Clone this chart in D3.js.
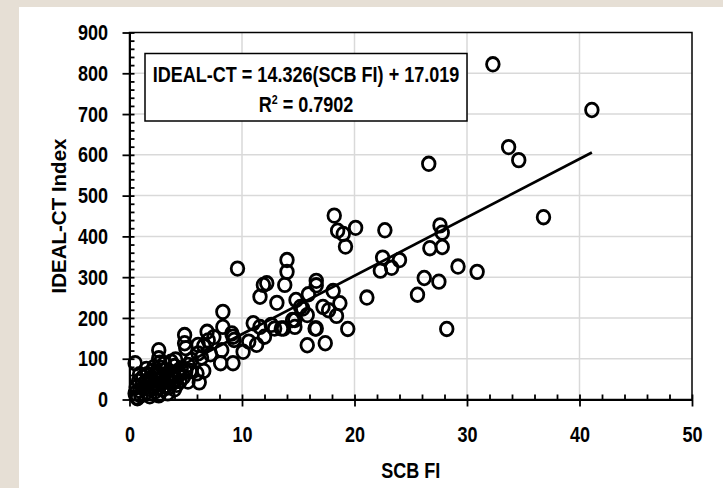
<!DOCTYPE html>
<html>
<head>
<meta charset="utf-8">
<script src="https://cdn.jsdelivr.net/npm/d3@7"></script>
<style>
    body { margin: 0; background: #e6dfd5; }
    svg { display: block; }
    .narrow { font-family: "Liberation Sans", Arial, sans-serif; font-weight: bold; font-size: 22px; }
</style>
</head>
<body>
<div id="chart"></div>
<script>
// Axis ticks
const xTicks = [0, 10, 20, 30, 40, 50];
const yTicks = [0, 100, 200, 300, 400, 500, 600, 700, 800, 900];
const xMinorTicks = d3.range(0, 51, 2);
const yMinorTicks = d3.range(0, 901, 20);

// Trend line (from the chart's equation)
const slope = 14.326;
const intercept = 17.019;
const equationText = "IDEAL-CT = 14.326(SCB FI) + 17.019";
const r2Text = "0.7902";

// SCB FI values
const scbFi = [
    32.3, 41.1, 33.7, 34.6, 26.6, 36.8,
    18.2, 18.5, 19.0, 19.2, 20.1, 22.7,
    27.6, 27.8, 27.8, 26.7, 22.5, 22.3, 23.3, 24.0,
    29.2, 30.9, 26.2, 27.5, 25.6, 21.1, 28.2,
    9.6, 14.0, 14.0, 13.8, 11.9, 12.2, 11.6, 13.1, 14.8,
    16.6, 16.6, 15.9, 18.1, 18.7, 17.2, 17.7, 18.4, 15.8, 15.2, 16.5,
    14.7, 14.7, 13.5, 12.6, 11.6, 11.0, 16.6, 19.4, 15.8, 17.4,
    8.3, 8.3, 9.2, 9.3, 9.1, 10.6, 11.3, 10.1, 9.2, 8.1, 12.0,
    4.9, 4.9, 5.0, 6.9, 7.0, 7.5, 2.6, 2.6, 0.5, 3.7, 5.5,
    6.1, 6.1, 8.2, 5.2, 6.2, 6.0, 0.7, 12.9, 13.7, 14.5, 15.4,
    6.6, 7.2, 6.4, 5.4, 6.6, 4.1, 2.7,
    0.5, 0.6, 0.7, 0.8, 0.9, 1.0, 1.1, 1.2, 1.3, 1.4, 1.5, 1.6, 1.7, 1.8, 1.9,
    2.0, 2.0, 2.1, 2.2, 2.3, 2.4, 2.5, 2.5, 2.6, 2.7, 2.8, 2.9, 3.0, 3.0, 3.1,
    3.2, 3.3, 3.4, 3.5, 3.6, 3.7, 3.8, 3.9, 4.0, 4.1, 4.2, 4.3, 4.4, 4.5, 4.6,
    4.8, 5.0, 5.2, 3.1, 2.2, 1.5, 0.9, 4.0, 3.4, 2.6, 1.8
];

// IDEAL-CT Index values
const idealCt = [
    822, 710, 619, 587, 578, 447,
    451, 414, 406, 375, 421, 415,
    427, 409, 374, 371, 348, 316, 323, 342,
    326, 313, 298, 289, 257, 250, 173,
    321, 342, 313, 281, 281, 285, 252, 237, 244,
    291, 280, 258, 266, 236, 227, 219, 205, 207, 227, 174,
    195, 178, 174, 183, 178, 187, 174, 173, 133, 138,
    215, 178, 154, 146, 162, 142, 134, 117, 89, 89, 154,
    158, 138, 126, 166, 145, 153, 121, 101, 89, 93, 97,
    134, 113, 121, 44, 42, 64, 3, 174, 174, 195, 223,
    131, 111, 103, 70, 70, 98, 90,
    15, 30, 5, 45, 22, 10, 35, 55, 28, 42, 18, 62, 38, 50, 25,
    70, 45, 32, 58, 20, 48, 66, 36, 28, 78, 52, 40, 60, 25, 45,
    72, 34, 55, 30, 48, 65, 40, 58, 82, 50, 36, 70, 60, 45, 76,
    55, 68, 85, 88, 80, 75, 62, 25, 15, 10, 8
];

const width = 723;
const height = 488;
// horizontal squeeze to get a Calibri-like narrow bold face
const squeeze = 0.82;

const svg = d3.select("#chart")
    .append("svg")
    .attr("width", width)
    .attr("height", height);

// Beige frame and white panel
svg.append("rect")
    .attr("width", width)
    .attr("height", height)
    .attr("fill", "#e6dfd5");
svg.append("rect")
    .attr("x", 19)
    .attr("y", 7)
    .attr("width", width - 19)
    .attr("height", height - 7)
    .attr("fill", "#fff");

const x = d3.scaleLinear().domain([0, 50]).range([129.5, 692]);
const y = d3.scaleLinear().domain([0, 900]).range([399.5, 32.5]);

// Gridlines
svg.append("g")
    .selectAll("line")
    .data(xTicks.slice(1, -1))
    .enter()
    .append("line")
    .attr("x1", d => x(d))
    .attr("x2", d => x(d))
    .attr("y1", y(900))
    .attr("y2", y(0))
    .attr("stroke", "#d9d9d9")
    .attr("stroke-width", 1.5);

svg.append("g")
    .selectAll("line")
    .data(yTicks.slice(1, -1))
    .enter()
    .append("line")
    .attr("x1", x(0))
    .attr("x2", x(50))
    .attr("y1", d => y(d))
    .attr("y2", d => y(d))
    .attr("stroke", "#d9d9d9")
    .attr("stroke-width", 1.5);

// Plot border
svg.append("rect")
    .attr("x", x(0))
    .attr("y", y(900))
    .attr("width", x(50) - x(0))
    .attr("height", y(0) - y(900))
    .attr("fill", "none")
    .attr("stroke", "#000")
    .attr("stroke-width", 1.5);

// Trend line
const xExtent = d3.extent(scbFi);
const trend = xExtent.map(v => [v, slope * v + intercept]);
svg.append("path")
    .attr("d", d3.line().x(d => x(d[0])).y(d => y(d[1]))(trend))
    .attr("stroke", "#000")
    .attr("stroke-width", 2.7)
    .attr("fill", "none");

// Data points
svg.append("g")
    .selectAll("ellipse")
    .data(scbFi.map((v, i) => [v, idealCt[i]]))
    .enter()
    .append("ellipse")
    .attr("cx", d => x(d[0]))
    .attr("cy", d => y(d[1]))
    .attr("rx", 6.3)
    .attr("ry", 6.8)
    .attr("fill", "none")
    .attr("stroke", "#000")
    .attr("stroke-width", 2.8);

// Y axis: major ticks cross, minor ticks inside
svg.append("g")
    .attr("transform", `translate(${x(0)},0)`)
    .call(d3.axisLeft(y).tickValues(yTicks).tickSize(7).tickSizeOuter(0).tickPadding(14.5));
svg.append("g")
    .attr("transform", `translate(${x(0)},0)`)
    .call(d3.axisRight(y).tickValues(yMinorTicks).tickSize(5).tickSizeOuter(0).tickFormat(""));

// X axis
svg.append("g")
    .attr("transform", `translate(0,${y(0)})`)
    .call(d3.axisBottom(x).tickValues(xTicks).tickSize(7).tickSizeOuter(0).tickPadding(20));
svg.append("g")
    .attr("transform", `translate(0,${y(0)})`)
    .call(d3.axisTop(x).tickValues(xMinorTicks).tickSize(5).tickSizeOuter(0).tickFormat(""));

svg.selectAll(".domain").attr("stroke", "#000").attr("stroke-width", 2);
svg.selectAll(".tick line").attr("stroke", "#000").attr("stroke-width", 1.8);
svg.selectAll(".tick text")
    .attr("class", "narrow")
    .attr("fill", "#000")
    .attr("font-size", null)
    .attr("font-family", null)
    .each(function() {
        const t = d3.select(this);
        t.attr("x", (+t.attr("x") || 0) / squeeze)
            .attr("transform", `scale(${squeeze},1)`);
    });

// Narrow text helper: place at (px, py) and squeeze horizontally
function narrowText(px, py) {
    return svg.append("text")
        .attr("class", "narrow")
        .attr("transform", `translate(${px},${py}) scale(${squeeze},1)`)
        .attr("text-anchor", "middle");
}

// Axis titles
narrowText((x(0) + x(50)) / 2, 478).text("SCB FI");

svg.append("text")
    .attr("transform", `translate(66,${(y(0) + y(900)) / 2}) rotate(-90)`)
    .attr("text-anchor", "middle")
    .style("font-family", "'Liberation Sans', Arial, sans-serif")
    .style("font-weight", "bold")
    .style("font-size", "20.5px")
    .text("IDEAL-CT Index");

// Equation box
svg.append("rect")
    .attr("x", 145)
    .attr("y", 53.5)
    .attr("width", 322)
    .attr("height", 67.5)
    .attr("fill", "#fff")
    .attr("stroke", "#000")
    .attr("stroke-width", 1.5);

narrowText(306, 82).text(equationText);

const r2 = narrowText(306, 112);
r2.append("tspan").text("R");
r2.append("tspan").attr("dy", -8).style("font-size", "13px").text("2");
r2.append("tspan").attr("dy", 8).text(" = " + r2Text);
</script>
</body>
</html>
